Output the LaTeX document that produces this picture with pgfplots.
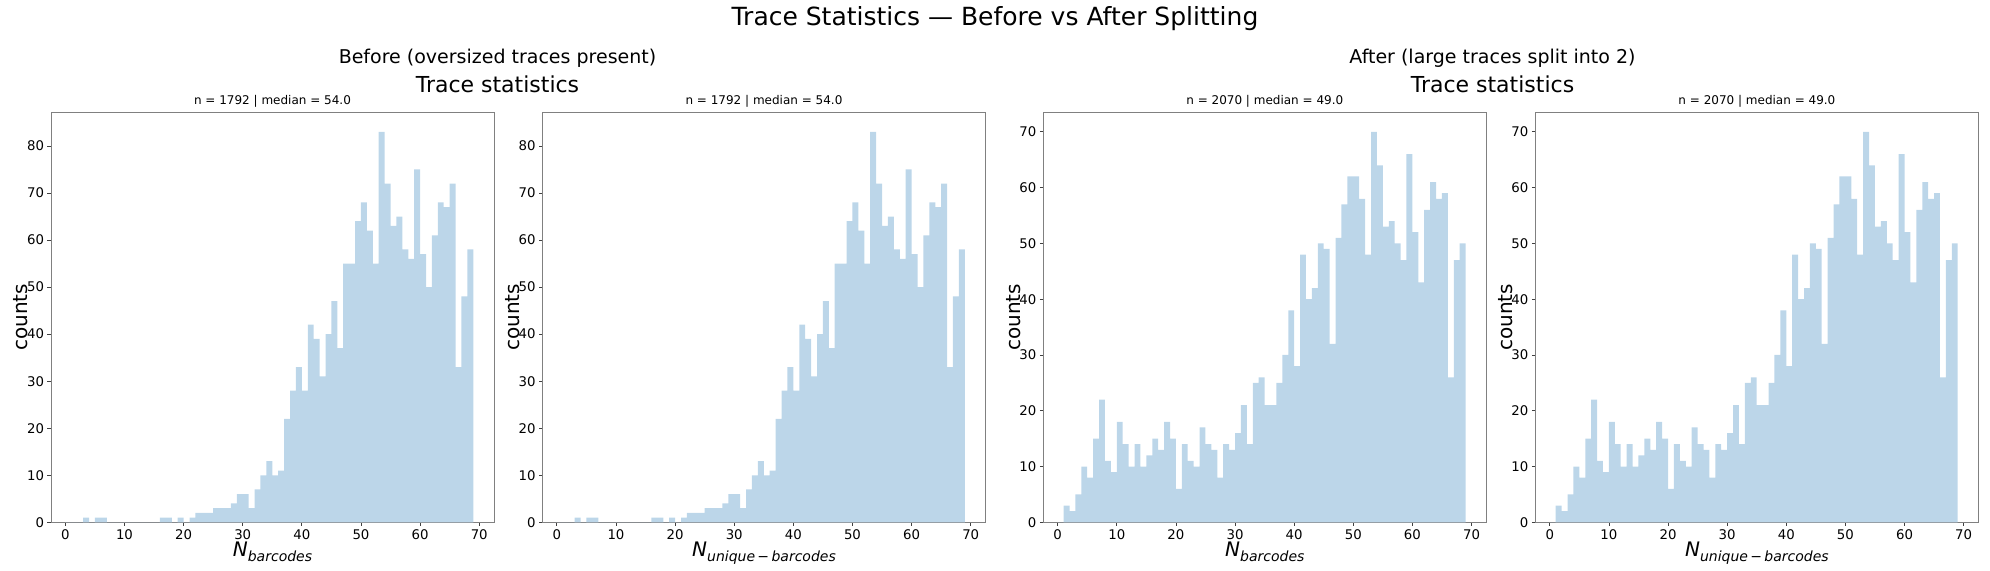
\documentclass[border=0pt]{standalone}
\usepackage{fontspec}
\setmainfont{DejaVu Sans}
\usepackage{pgfplots}
\pgfplotsset{compat=1.18}
\usepackage{pgfplotstable}
\definecolor{barblue}{RGB}{188,214,233}
\definecolor{spine}{RGB}{128,128,128}

% Before splitting: bin left edge, count (last row closes the final bin)
\pgfplotstableread{
x y
0 0
1 0
2 0
3 1
4 0
5 1
6 1
7 0
8 0
9 0
10 0
11 0
12 0
13 0
14 0
15 0
16 1
17 1
18 0
19 1
20 0
21 1
22 2
23 2
24 2
25 3
26 3
27 3
28 4
29 6
30 6
31 3
32 7
33 10
34 13
35 10
36 11
37 22
38 28
39 33
40 28
41 42
42 39
43 31
44 40
45 47
46 37
47 55
48 55
49 64
50 68
51 62
52 55
53 83
54 72
55 63
56 65
57 58
58 56
59 75
60 57
61 50
62 61
63 68
64 67
65 72
66 33
67 48
68 58
69 58
}\tabBefore

% After splitting
\pgfplotstableread{
x y
0 0
1 3
2 2
3 5
4 10
5 8
6 15
7 22
8 11
9 9
10 18
11 14
12 10
13 14
14 10
15 12
16 15
17 13
18 18
19 15
20 6
21 14
22 11
23 10
24 17
25 14
26 13
27 8
28 14
29 13
30 16
31 21
32 14
33 25
34 26
35 21
36 21
37 25
38 30
39 38
40 28
41 48
42 40
43 42
44 50
45 49
46 32
47 51
48 57
49 62
50 62
51 58
52 48
53 70
54 64
55 53
56 54
57 50
58 47
59 66
60 52
61 43
62 56
63 61
64 58
65 59
66 26
67 47
68 50
69 50
}\tabAfter

\pgfplotsset{histax/.style={
  scale only axis, width=443bp, height=410bp,
  xmin=-2.43, xmax=72.5, ymin=0,
  xtick={0,10,...,70},
  axis line style={spine, line width=0.8bp},
  tick style={black!75, line width=0.8bp},
  major tick length=3.5bp,
  tick align=outside,
  xtick pos=lower, ytick pos=left,
  ticklabel style={font=\fontsize{13.3bp}{15bp}\selectfont},
  /pgf/number format/assume math mode=true,
  label style={font=\fontsize{20bp}{24bp}\selectfont},
  ylabel={counts},
  ylabel style={at={(axis description cs:-0.068,0.5)}, anchor=center},
  xlabel style={at={(axis description cs:0.5,-0.083)}, anchor=base},
  title style={font=\fontsize{12bp}{14bp}\selectfont, at={(axis description cs:0.5,1)}, anchor=base, yshift=1.5bp},
}}

\newcommand{\labbar}{{\itshape N\raisebox{-0.28em}{\fontsize{14bp}{14bp}\selectfont barcodes}}}
\newcommand{\labuni}{{\itshape N\raisebox{-0.28em}{\fontsize{14bp}{14bp}\selectfont unique\,−\,barcodes}}}

\begin{document}
\begin{tikzpicture}
\useasboundingbox (0,0) rectangle (1990bp,571bp);

\node[font=\fontsize{25bp}{30bp}\selectfont] at (995bp,552bp) {Trace Statistics — Before vs After Splitting};
\node[font=\fontsize{19bp}{23bp}\selectfont] at (497.5bp,513bp) {Before (oversized traces present)};
\node[font=\fontsize{22bp}{26bp}\selectfont] at (497.5bp,487bp) {Trace statistics};
\node[font=\fontsize{19bp}{23bp}\selectfont] at (1492.5bp,513bp) {After (large traces split into 2)};
\node[font=\fontsize{22bp}{26bp}\selectfont] at (1492.5bp,487bp) {Trace statistics};

\begin{axis}[histax, at={(51bp,48.7bp)}, anchor=south west,
  ymax=87.15, ytick={0,10,...,80},
  xlabel={\labbar}, title={n = 1792 | median = 54.0}]
\addplot[const plot, fill=barblue, draw=none] table {\tabBefore} \closedcycle;
\end{axis}

\begin{axis}[histax, at={(542.5bp,48.7bp)}, anchor=south west,
  ymax=87.15, ytick={0,10,...,80},
  xlabel={\labuni}, title={n = 1792 | median = 54.0}]
\addplot[const plot, fill=barblue, draw=none] table {\tabBefore} \closedcycle;
\end{axis}

\begin{axis}[histax, at={(1043.3bp,48.7bp)}, anchor=south west,
  ymax=73.5, ytick={0,10,...,70},
  xlabel={\labbar}, title={n = 2070 | median = 49.0}]
\addplot[const plot, fill=barblue, draw=none] table {\tabAfter} \closedcycle;
\end{axis}

\begin{axis}[histax, at={(1535.4bp,48.7bp)}, anchor=south west,
  ymax=73.5, ytick={0,10,...,70},
  xlabel={\labuni}, title={n = 2070 | median = 49.0}]
\addplot[const plot, fill=barblue, draw=none] table {\tabAfter} \closedcycle;
\end{axis}
\end{tikzpicture}
\end{document}
